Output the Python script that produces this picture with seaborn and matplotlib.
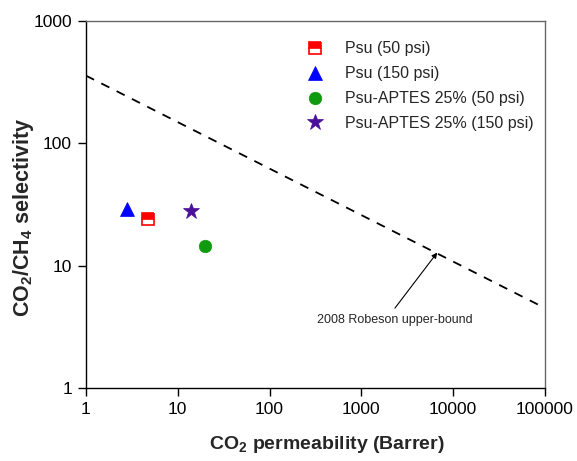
"""CO2/CH4 Robeson plot for Psu and Psu-APTES membranes."""

import numpy as np
import matplotlib
matplotlib.use("Agg")
import matplotlib.pyplot as plt
from matplotlib.ticker import FuncFormatter, NullLocator
import seaborn as sns

# data
LABELS = ["Psu (50 psi)", "Psu (150 psi)", "Psu-APTES 25% (50 psi)", "Psu-APTES 25% (150 psi)"]
PERM = [4.7, 2.8, 20.0, 13.8]
SELECT = [24.0, 29.0, 14.5, 28.0]

# 2008 Robeson upper bound endpoints
ROB_PERM = [1, 100000]
ROB_SEL = [357.5, 4.5]

MARKERS = ["s", "^", "o", "*"]
COLORS = ["#ff0000", "#0000ff", "#109a10", "#4b0f9b"]
SIZES = [8, 10, 9, 12]
FILLS = ["top", "full", "full", "full"]

sns.set_style("ticks")
plt.rcParams["font.family"] = ["Liberation Sans", "DejaVu Sans"]
plt.rcParams["mathtext.fontset"] = "custom"
plt.rcParams["mathtext.bf"] = "Liberation Sans:bold"
plt.rcParams["mathtext.rm"] = "Liberation Sans"

fig, ax = plt.subplots(figsize=(5.77, 4.61), dpi=100)
fig.subplots_adjust(left=86 / 577, right=545 / 577, top=1 - 21 / 461, bottom=1 - 388 / 461)

sns.lineplot(x=ROB_PERM, y=ROB_SEL, ax=ax, color="black", linestyle=(0, (5, 4.5)),
             linewidth=1.3, legend=False)

for lab, p, s, m, c, ms, fs in zip(LABELS, PERM, SELECT, MARKERS, COLORS, SIZES, FILLS):
    ax.plot([p], [s], linestyle="none", marker=m, color=c, markersize=ms, fillstyle=fs,
            markerfacecoloralt="white", markeredgecolor=c,
            markeredgewidth=1.2 if fs == "top" else 0.5, label=lab)

ax.set_xscale("log")
ax.set_yscale("log")
ax.set_xlim(1, 100000)
ax.set_ylim(1, 1000)
ax.xaxis.set_minor_locator(NullLocator())
ax.yaxis.set_minor_locator(NullLocator())
fmt = FuncFormatter(lambda v, _: f"{v:.0f}")
ax.xaxis.set_major_formatter(fmt)
ax.yaxis.set_major_formatter(fmt)
ax.tick_params(labelsize=12.5, direction="out", length=6, width=1, colors="black", pad=4)
for sp in ax.spines.values():
    sp.set_color("black")
    sp.set_linewidth(1)
ax.spines["top"].set_color("#666666")
ax.spines["right"].set_color("#666666")

ax.set_xlabel(r"CO$_\mathbf{2}$ permeability (Barrer)", fontsize=14, fontweight="bold")
ax.set_ylabel(r"CO$_\mathbf{2}$/CH$_\mathbf{4}$ selectivity", fontsize=15.5, fontweight="bold")
ax.xaxis.set_label_coords(0.525, -0.125)
ax.yaxis.set_label_coords(-0.108, 0.466)

ax.text(2300, 3.6, "2008 Robeson upper-bound", ha="center", va="center", fontsize=9)
ax.annotate("", xy=(6700, 12.8), xytext=(2320, 4.5),
            arrowprops=dict(arrowstyle="-|>", color="black", lw=0.8, mutation_scale=8,
                            shrinkA=0, shrinkB=0))

ax.legend(loc="upper right", bbox_to_anchor=(1.0, 0.975), frameon=False, fontsize=11.5,
          handletextpad=0.9, labelspacing=0.62, borderaxespad=0.3)

fig.savefig("out.png", dpi=100)
plt.close()
